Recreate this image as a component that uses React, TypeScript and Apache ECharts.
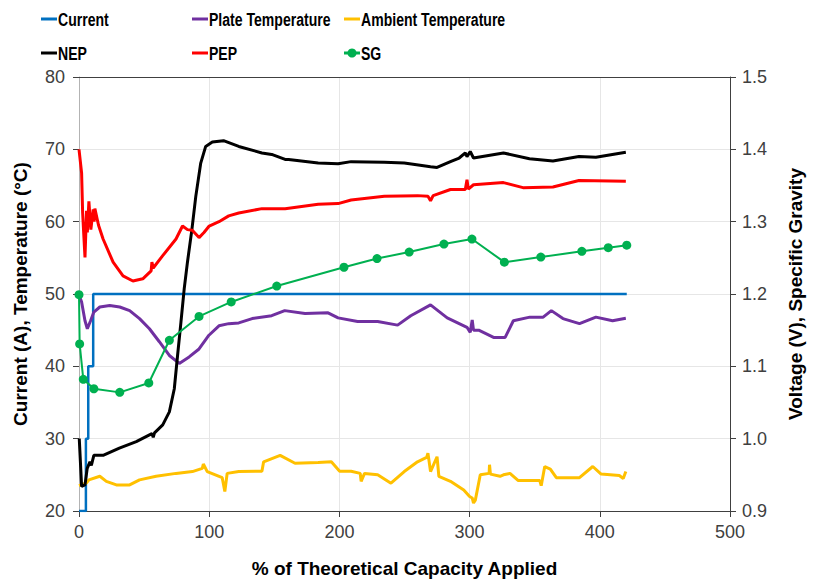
import React, { useEffect, useRef } from "react";
import * as echarts from "echarts";

const xTicks = [0, 100, 200, 300, 400, 500];

const currentData = [
  [0, 20], [5.3, 20], [5.3, 30], [7.1, 30], [7.1, 40], [10.9, 40], [10.9, 50], [420.7, 50],
];

const plateTempData = [
  [0.2, 49.8], [2, 48.9], [4.6, 46.3], [6.4, 45.2], [8.9, 46.3], [11.4, 47.5], [16, 48.2],
  [23.6, 48.4], [31.3, 48.2], [38.9, 47.7], [46.5, 46.6], [54.1, 45.2], [61.7, 43.4],
  [69.4, 41.5], [77, 40.4], [84.6, 41.3], [92.2, 42.4], [99.8, 44.3], [107.5, 45.6],
  [115, 45.9], [122.7, 46.0], [133, 46.6], [148, 47.0], [158, 47.7], [173.6, 47.3],
  [191.3, 47.4], [199, 46.7], [214, 46.2], [229.4, 46.2], [244.7, 45.7], [254.8, 47.0],
  [270, 48.5], [282.8, 46.7], [298, 45.4], [300.5, 44.7], [302, 46.4], [303, 45.0],
  [307, 45.0], [318.4, 44.0], [327.3, 44.0], [333.6, 46.3], [346.3, 46.8], [356.5, 46.8],
  [362.8, 47.7], [371.7, 46.6], [384.4, 45.9], [397, 46.8], [409.8, 46.3], [420, 46.65],
];

const ambientTempData = [
  [0, 23.5], [5.8, 23.9], [7.6, 24.3], [16, 24.8], [21, 24.1], [28.7, 23.6], [38.9, 23.6],
  [46.5, 24.3], [59.2, 24.8], [74.5, 25.2], [87.1, 25.45], [94.7, 25.9], [95.5, 26.5],
  [98.5, 25.45], [110, 24.6], [112, 22.7], [113.8, 25.2], [122.7, 25.45], [140.5, 25.5],
  [141.8, 26.8], [154.5, 27.7], [165.9, 26.6], [183.7, 26.7], [193.8, 26.8], [200.2, 25.5],
  [209, 25.5], [216, 25.2], [216.7, 24.1], [219.3, 25.2], [229.4, 25.0], [239.6, 23.85],
  [249.8, 25.45], [260, 26.8], [267, 27.4], [268, 28.0], [270, 25.45], [275, 27.5],
  [276.4, 24.8], [285.3, 24.1], [295.5, 22.9], [300, 22.0], [302, 21.8], [303, 21.1],
  [304.4, 21.5], [308.2, 25.0], [315, 25.2], [315.3, 26.4], [316, 25.1], [323.4, 24.8],
  [326, 25.0], [331, 25.2], [337.4, 24.2], [353.9, 24.2], [355, 23.5], [357.7, 26.15],
  [362, 25.8], [366.6, 24.6], [384.4, 24.6], [394.6, 26.15], [401, 25.1], [415, 24.9],
  [418, 24.5], [420, 25.45],
];

const nepData = [
  [0.2, 1.0], [2, 0.934], [4.6, 0.936], [6.3, 0.959], [8.4, 0.968], [9.5, 0.963],
  [11.4, 0.977], [18.5, 0.977], [31, 0.987], [44, 0.996], [56, 1.007], [57, 1.002],
  [58, 1.008], [64.3, 1.019], [69.4, 1.037], [73.2, 1.069], [75.7, 1.115], [78.3, 1.161],
  [80.8, 1.207], [83.3, 1.244], [86.7, 1.289], [89.7, 1.335], [93.5, 1.381], [97.3, 1.404],
  [102.4, 1.41], [111, 1.412], [122.7, 1.404], [140.5, 1.395], [148, 1.393], [158.3, 1.386],
  [161, 1.386], [183.7, 1.381], [199, 1.38], [209, 1.383], [234.5, 1.382], [249.8, 1.381],
  [262, 1.378], [270, 1.376], [275, 1.375], [285.3, 1.383], [292, 1.388], [296.7, 1.395],
  [298, 1.39], [300.5, 1.397], [303, 1.388], [326, 1.395], [346, 1.387], [364, 1.384],
  [384, 1.39], [397, 1.389], [420, 1.396],
];

const pepData = [
  [0, 1.4], [2, 1.3675], [2.8, 1.312], [4.6, 1.2505], [5.8, 1.315], [6.4, 1.285],
  [7.6, 1.328], [9.1, 1.289], [10.9, 1.317], [11.6, 1.3], [12.2, 1.318], [15, 1.295],
  [18.5, 1.276], [26.2, 1.244], [33.8, 1.225], [41.4, 1.218], [49, 1.221], [55.4, 1.232],
  [56, 1.244], [57, 1.236], [64.3, 1.253], [74.5, 1.276], [79.5, 1.294], [83.3, 1.289],
  [87, 1.288], [92.2, 1.278], [96, 1.285], [100, 1.294], [107.5, 1.3], [115, 1.308],
  [122.7, 1.312], [140.5, 1.318], [158.3, 1.318], [183.7, 1.324], [199, 1.325],
  [209, 1.33], [234.5, 1.335], [260, 1.336], [268, 1.335], [270, 1.329], [272, 1.336],
  [285.3, 1.3445], [296.7, 1.3445], [298, 1.358], [299, 1.345], [303, 1.351], [326, 1.354],
  [341, 1.347], [364, 1.348], [384, 1.357], [420, 1.356],
];

const sgData = [
  [0, 1.199], [0.5, 1.131], [3.3, 1.082], [11.4, 1.069], [31.3, 1.064], [53.6, 1.077],
  [69.4, 1.136], [92.2, 1.169], [116.9, 1.189], [151.9, 1.211], [203.5, 1.237],
  [228.9, 1.249], [253.6, 1.258], [280.3, 1.269], [301.8, 1.276], [326.7, 1.244],
  [354.7, 1.251], [386.2, 1.259], [406.5, 1.264], [420.7, 1.2675],
];

const seriesNames = ["Current", "Plate Temperature", "Ambient Temperature", "NEP", "PEP", "SG"];
const seriesColors = ["#0070C0", "#7030A0", "#FFC000", "#000000", "#FF0000", "#00B050"];

const FONT = "'Liberation Sans', Arial, sans-serif";

function legendGraphic() {
  const colX = [41, 192, 344];
  const rowY = [19, 53];
  const els: any[] = [];
  seriesNames.forEach((name, i) => {
    const x = colX[i % 3];
    const y = rowY[Math.floor(i / 3)];
    const color = seriesColors[i];
    els.push({
      type: "line",
      shape: { x1: x, y1: y, x2: x + 16, y2: y },
      style: { stroke: color, lineWidth: 3 },
    });
    if (name === "SG") {
      els.push({ type: "circle", shape: { cx: x + 8, cy: y, r: 4.5 }, style: { fill: color } });
    }
    els.push({
      type: "text",
      x: x + 17,
      y: y + 1,
      scaleX: 0.74,
      style: {
        text: name,
        font: `bold 19px ${FONT}`,
        fill: "#000",
        verticalAlign: "middle",
        align: "left",
      },
    });
  });
  return els;
}

export default function App() {
  const ref = useRef<HTMLDivElement>(null);
  useEffect(() => {
    if (!ref.current) return;
    const chart = echarts.init(ref.current, null, { renderer: "svg" });
    const lineSeries = (i: number, data: number[][], yIndex: number, width: number) => ({
      name: seriesNames[i],
      type: "line",
      data,
      yAxisIndex: yIndex,
      showSymbol: false,
      symbol: "none",
      lineStyle: { color: seriesColors[i], width },
      itemStyle: { color: seriesColors[i] },
      z: 3,
    });
    chart.setOption({
      animation: false,
      backgroundColor: "#fff",
      grid: { left: 79, right: 77, top: 77, bottom: 70 },
      graphic: legendGraphic(),
      xAxis: [
        {
          type: "value",
          min: 0,
          max: 500,
          interval: 100,
          name: "% of Theoretical Capacity Applied",
          nameLocation: "middle",
          nameGap: 48,
          nameTextStyle: { fontFamily: FONT, fontWeight: "bold", fontSize: 19, color: "#000" },
          axisLine: { show: true, onZero: false, lineStyle: { color: "#404040", width: 1 } },
          axisTick: { show: true, inside: false, length: 6, lineStyle: { color: "#404040" } },
          axisLabel: { fontFamily: FONT, fontSize: 18, color: "#404040", margin: 12, formatter: (v: number) => (xTicks.includes(v) ? String(v) : "") },
          splitLine: { show: true, lineStyle: { color: "#e6e6e6", width: 1 } },
        },
        {
          type: "value",
          position: "top",
          min: 0,
          max: 500,
          interval: 100,
          axisLine: { show: true, onZero: false, lineStyle: { color: "#404040", width: 1 } },
          axisTick: { show: false },
          axisLabel: { show: false },
          splitLine: { show: false },
        },
      ],
      yAxis: [
        {
          type: "value",
          min: 20,
          max: 80,
          interval: 10,
          position: "left",
          name: "Current (A), Temperature (°C)",
          nameLocation: "middle",
          nameGap: 49,
          nameTextStyle: { fontFamily: FONT, fontWeight: "bold", fontSize: 19, color: "#000" },
          axisLine: { show: true, onZero: false, lineStyle: { color: "#b3b3b3", width: 1 } },
          axisTick: { show: true, inside: false, length: 6, lineStyle: { color: "#404040" } },
          axisLabel: { fontFamily: FONT, fontSize: 18, color: "#404040", margin: 14 },
          splitLine: { show: true, lineStyle: { color: "#e6e6e6", width: 1 } },
        },
        {
          type: "value",
          min: 0.9,
          max: 1.5,
          interval: 0.1,
          position: "right",
          name: "Voltage (V), Specific Gravity",
          nameLocation: "middle",
          nameGap: 56,
          nameTextStyle: { fontFamily: FONT, fontWeight: "bold", fontSize: 19, color: "#000" },
          axisLine: { show: true, onZero: false, lineStyle: { color: "#404040", width: 1 } },
          axisTick: { show: true, inside: false, length: 6, lineStyle: { color: "#404040" } },
          axisLabel: { fontFamily: FONT, fontSize: 18, color: "#404040", margin: 12, formatter: (v: number) => v.toFixed(1) },
          splitLine: { show: false },
        },
      ],
      series: [
        lineSeries(0, currentData, 0, 2.5),
        lineSeries(1, plateTempData, 0, 3),
        lineSeries(2, ambientTempData, 0, 3),
        lineSeries(3, nepData, 1, 3),
        lineSeries(4, pepData, 1, 3),
        {
          name: seriesNames[5],
          type: "line",
          data: sgData,
          yAxisIndex: 1,
          symbol: "circle",
          symbolSize: 9,
          showSymbol: true,
          lineStyle: { color: seriesColors[5], width: 2 },
          itemStyle: { color: seriesColors[5] },
          z: 4,
        },
      ],
    });
    return () => chart.dispose();
  }, []);
  return <div ref={ref} style={{ width: 813, height: 583, position: "absolute", left: 0, top: 0 }} />;
}
